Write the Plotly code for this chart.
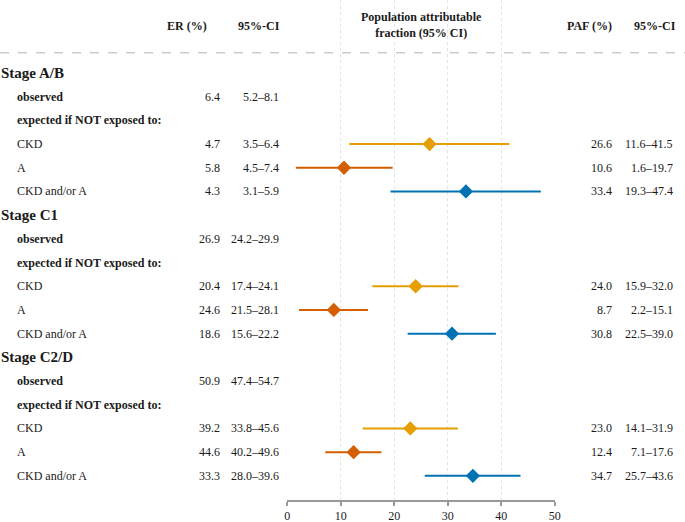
import plotly.graph_objects as go

# rows of the table (top to bottom)
row_labels = ["Stage A/B", "observed", "expected if NOT exposed to:", "CKD", "A", "CKD and/or A",
              "Stage C1", "observed", "expected if NOT exposed to:", "CKD", "A", "CKD and/or A",
              "Stage C2/D", "observed", "expected if NOT exposed to:", "CKD", "A", "CKD and/or A"]
row_kind = ["stage", "bold", "bold", "plain", "plain", "plain"] * 3

# excess risk columns (blank for header rows)
er = ["", "6.4", "", "4.7", "5.8", "4.3",
      "", "26.9", "", "20.4", "24.6", "18.6",
      "", "50.9", "", "39.2", "44.6", "33.3"]
er_ci = ["", "5.2–8.1", "", "3.5–6.4", "4.5–7.4", "3.1–5.9",
         "", "24.2–29.9", "", "17.4–24.1", "21.5–28.1", "15.6–22.2",
         "", "47.4–54.7", "", "33.8–45.6", "40.2–49.6", "28.0–39.6"]

# population attributable fractions per exposure, one value per stage
stages = ["Stage A/B", "Stage C1", "Stage C2/D"]
exposures = ["CKD", "A", "CKD and/or A"]
colors = ["#E69F00", "#D55E00", "#0072B2"]
paf = {"CKD": [26.6, 24.0, 23.0], "A": [10.6, 8.7, 12.4], "CKD and/or A": [33.4, 30.8, 34.7]}
paf_lo = {"CKD": [11.6, 15.9, 14.1], "A": [1.6, 2.2, 7.1], "CKD and/or A": [19.3, 22.5, 25.7]}
paf_hi = {"CKD": [41.5, 32.0, 31.9], "A": [19.7, 15.1, 17.6], "CKD and/or A": [47.4, 39.0, 43.6]}

W, H = 685, 522
FONT = "Liberation Serif, Times New Roman, serif"
TXT = "#1a1a1a"

fig = go.Figure()

for e, c in zip(exposures, colors):
    rows = [s * 6 + 3 + exposures.index(e) for s in range(3)]
    ys = [-r for r in rows]
    fig.add_trace(go.Scatter(
        x=paf[e], y=ys, mode="markers",
        marker=dict(symbol="diamond", size=11, color=c),
        error_x=dict(type="data", symmetric=False,
                     array=[h - v for h, v in zip(paf_hi[e], paf[e])],
                     arrayminus=[v - l for v, l in zip(paf[e], paf_lo[e])],
                     color=c, thickness=2, width=0),
        showlegend=False, hoverinfo="skip"))

ann = []
for i, lab in enumerate(row_labels):
    y = -i
    if row_kind[i] == "stage":
        ann.append(dict(x=-1 / W, y=y, text="<b>" + lab + "</b>", xanchor="left",
                        font=dict(family=FONT, size=15, color=TXT)))
    else:
        t = "<b>" + lab + "</b>" if row_kind[i] == "bold" else lab
        ann.append(dict(x=15 / W, y=y, text=t, xanchor="left",
                        font=dict(family=FONT, size=12, color=TXT)))
    if er[i]:
        ann.append(dict(x=222 / W, y=y, text=er[i], xanchor="right",
                        font=dict(family=FONT, size=12, color=TXT)))
        ann.append(dict(x=281 / W, y=y, text=er_ci[i], xanchor="right",
                        font=dict(family=FONT, size=12, color=TXT)))

for s in range(3):
    for k, e in enumerate(exposures):
        y = -(s * 6 + 3 + k)
        ann.append(dict(x=614 / W, y=y, text="%.1f" % paf[e][s], xanchor="right",
                        font=dict(family=FONT, size=12, color=TXT)))
        ann.append(dict(x=674.5 / W, y=y, text="%.1f–%.1f" % (paf_lo[e][s], paf_hi[e][s]),
                        xanchor="right", font=dict(family=FONT, size=12, color=TXT)))

hy = 1.97
hfont = dict(family=FONT, size=12, color=TXT)
ann += [
    dict(x=187 / W, y=hy, text="<b>ER (%)</b>", xanchor="center", font=hfont),
    dict(x=259 / W, y=hy, text="<b>95%-CI</b>", xanchor="center", font=hfont),
    dict(x=421 / W, y=hy + 0.05, text="<b>Population attributable<br>fraction (95% CI)</b>",
         xanchor="center", font=hfont),
    dict(x=589 / W, y=hy, text="<b>PAF (%)</b>", xanchor="center", font=hfont),
    dict(x=655 / W, y=hy, text="<b>95%-CI</b>", xanchor="center", font=hfont),
]
for a in ann:
    a.update(xref="paper", yref="y", showarrow=False, yanchor="middle")

fig.update_layout(
    width=W, height=H,
    margin=dict(l=0, r=0, t=0, b=22, autoexpand=False),
    paper_bgcolor="white", plot_bgcolor="white",
    font=dict(family=FONT, size=12, color=TXT),
    annotations=ann,
    shapes=[dict(type="line", xref="paper", x0=0, x1=1, yref="y", y0=0.85, y1=0.85,
                 line=dict(color="#b3b3b3", width=1, dash="dash"))],
    xaxis=dict(domain=[287 / W, 555 / W], range=[-0.05, 50.05],
               tickvals=[0, 10, 20, 30, 40, 50], showgrid=True,
               gridcolor="#e3e3e3", griddash="dot", gridwidth=1, zeroline=False,
               showline=True, linecolor="#999999", linewidth=1.5,
               ticks="outside", ticklen=4, tickcolor="#999999", tickwidth=1.5,
               tickfont=dict(family=FONT, size=12, color=TXT)),
    yaxis=dict(range=[-18.02, 3.08], showgrid=False, zeroline=False,
               showticklabels=False, showline=False),
)

fig.write_html("out.html", config={"displayModeBar": False},
               post_script="document.body.style.margin='0px';"
                           "document.body.style.overflow='hidden';"
                           "document.documentElement.style.overflow='hidden';")
